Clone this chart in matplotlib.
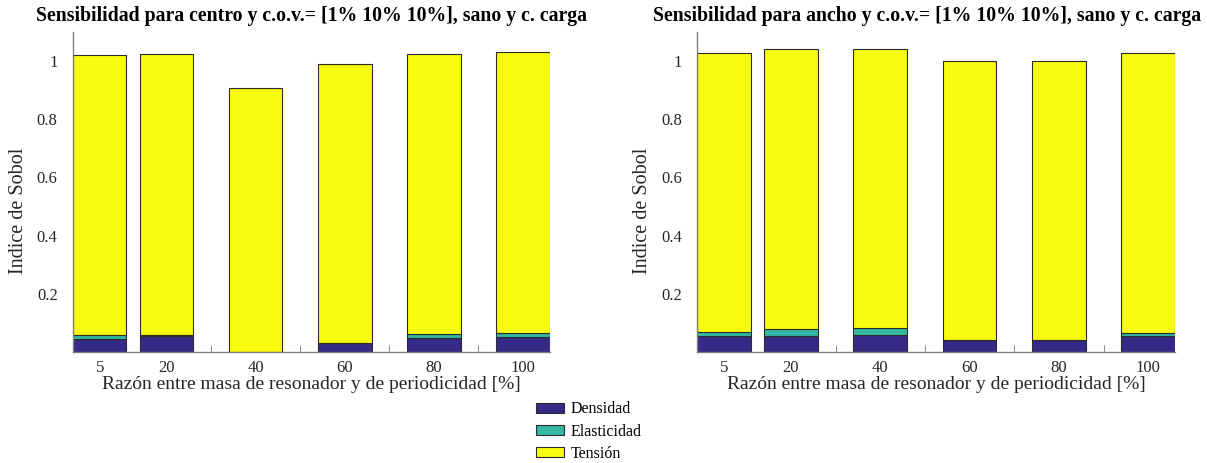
import numpy as np
import matplotlib.pyplot as plt

# masa ratio [%]
razon = [5, 20, 40, 60, 80, 100]

# left panel: centro
centro_densidad = [0.046, 0.055, 0.0, 0.031, 0.049, 0.051]
centro_elasticidad = [0.014, 0.004, 0.0, 0.0, 0.014, 0.014]
centro_total = [1.021, 1.023, 0.908, 0.990, 1.025, 1.031]

# right panel: ancho
ancho_densidad = [0.054, 0.054, 0.059, 0.043, 0.040, 0.055]
ancho_elasticidad = [0.016, 0.026, 0.023, 0.0, 0.0, 0.011]
ancho_total = [1.028, 1.043, 1.043, 1.001, 1.000, 1.027]

titles = ['Sensibilidad para centro y c.o.v.= [1% 10% 10%], sano y c. carga',
          'Sensibilidad para ancho y c.o.v.= [1% 10% 10%], sano y c. carga']
title_x = [0.5, 0.482]
series_names = ['Densidad', 'Elasticidad', 'Tensión']
colors = ['#352a87', '#33b8a1', '#f9fb0e']

plt.rcParams['font.family'] = ['Liberation Serif', 'DejaVu Serif']

fig = plt.figure(figsize=(12.07, 4.63), dpi=100)
ax1 = fig.add_axes([0.0605, 0.2397, 0.395, 0.6912])
ax2 = fig.add_axes([0.5775, 0.2397, 0.396, 0.6912])

panels = [(ax1, centro_densidad, centro_elasticidad, centro_total),
          (ax2, ancho_densidad, ancho_elasticidad, ancho_total)]

handles = []
for i, (ax, dens, elas, tot) in enumerate(panels):
    x = np.array(razon)
    d = np.array(dens)
    e = np.array(elas)
    t = np.array(tot) - d - e
    kw = dict(width=12, edgecolor='#2b2b2b', linewidth=0.8)
    h1 = ax.bar(x, d, color=colors[0], **kw)
    h2 = ax.bar(x, e, bottom=d, color=colors[1], **kw)
    h3 = ax.bar(x, t, bottom=d + e, color=colors[2], **kw)
    if i == 0:
        handles = [h1, h2, h3]

    ax.set_xlim(-1, 106)
    ax.set_ylim(0, 1.1)
    ax.set_axisbelow(True)
    ax.set_xticks(razon)
    ax.set_xticklabels([str(v) for v in razon])
    ax.set_xticks([10, 30, 50, 70, 90], minor=True)
    ax.tick_params(axis='x', which='major', length=0, labelsize=12,
                   colors='#262626', pad=6)
    ax.tick_params(axis='x', which='minor', direction='in', length=5,
                   color='#777777')
    ax.set_yticks([0.2, 0.4, 0.6, 0.8, 1.0])
    ax.set_yticklabels(['0.2', '0.4', '0.6', '0.8', '1'])
    ax.tick_params(axis='y', direction='in', length=5, labelsize=12,
                   colors='#262626', pad=11)
    ax.tick_params(axis='y', color='#777777')
    for s in ['top', 'right']:
        ax.spines[s].set_visible(False)
    for s in ['left', 'bottom']:
        ax.spines[s].set_color('#808080')
        ax.spines[s].set_linewidth(1.0)

    ax.set_title(titles[i], fontsize=14.2, fontweight='bold', pad=8,
                 x=title_x[i])
    ax.set_xlabel('Razón entre masa de resonador y de periodicidad [%]',
                  fontsize=14, color='#262626', labelpad=0)
    ax.set_ylabel('Indice de Sobol', fontsize=14.5, color='#262626')
    ax.yaxis.set_label_coords(-0.094, 0.44)

fig.legend(handles, series_names, loc='center', bbox_to_anchor=(0.488, 0.068),
           frameon=False, fontsize=11.5, handlelength=1.75, handleheight=0.55,
           labelspacing=0.38, handletextpad=0.45)

fig.savefig('out.png', dpi=100)
